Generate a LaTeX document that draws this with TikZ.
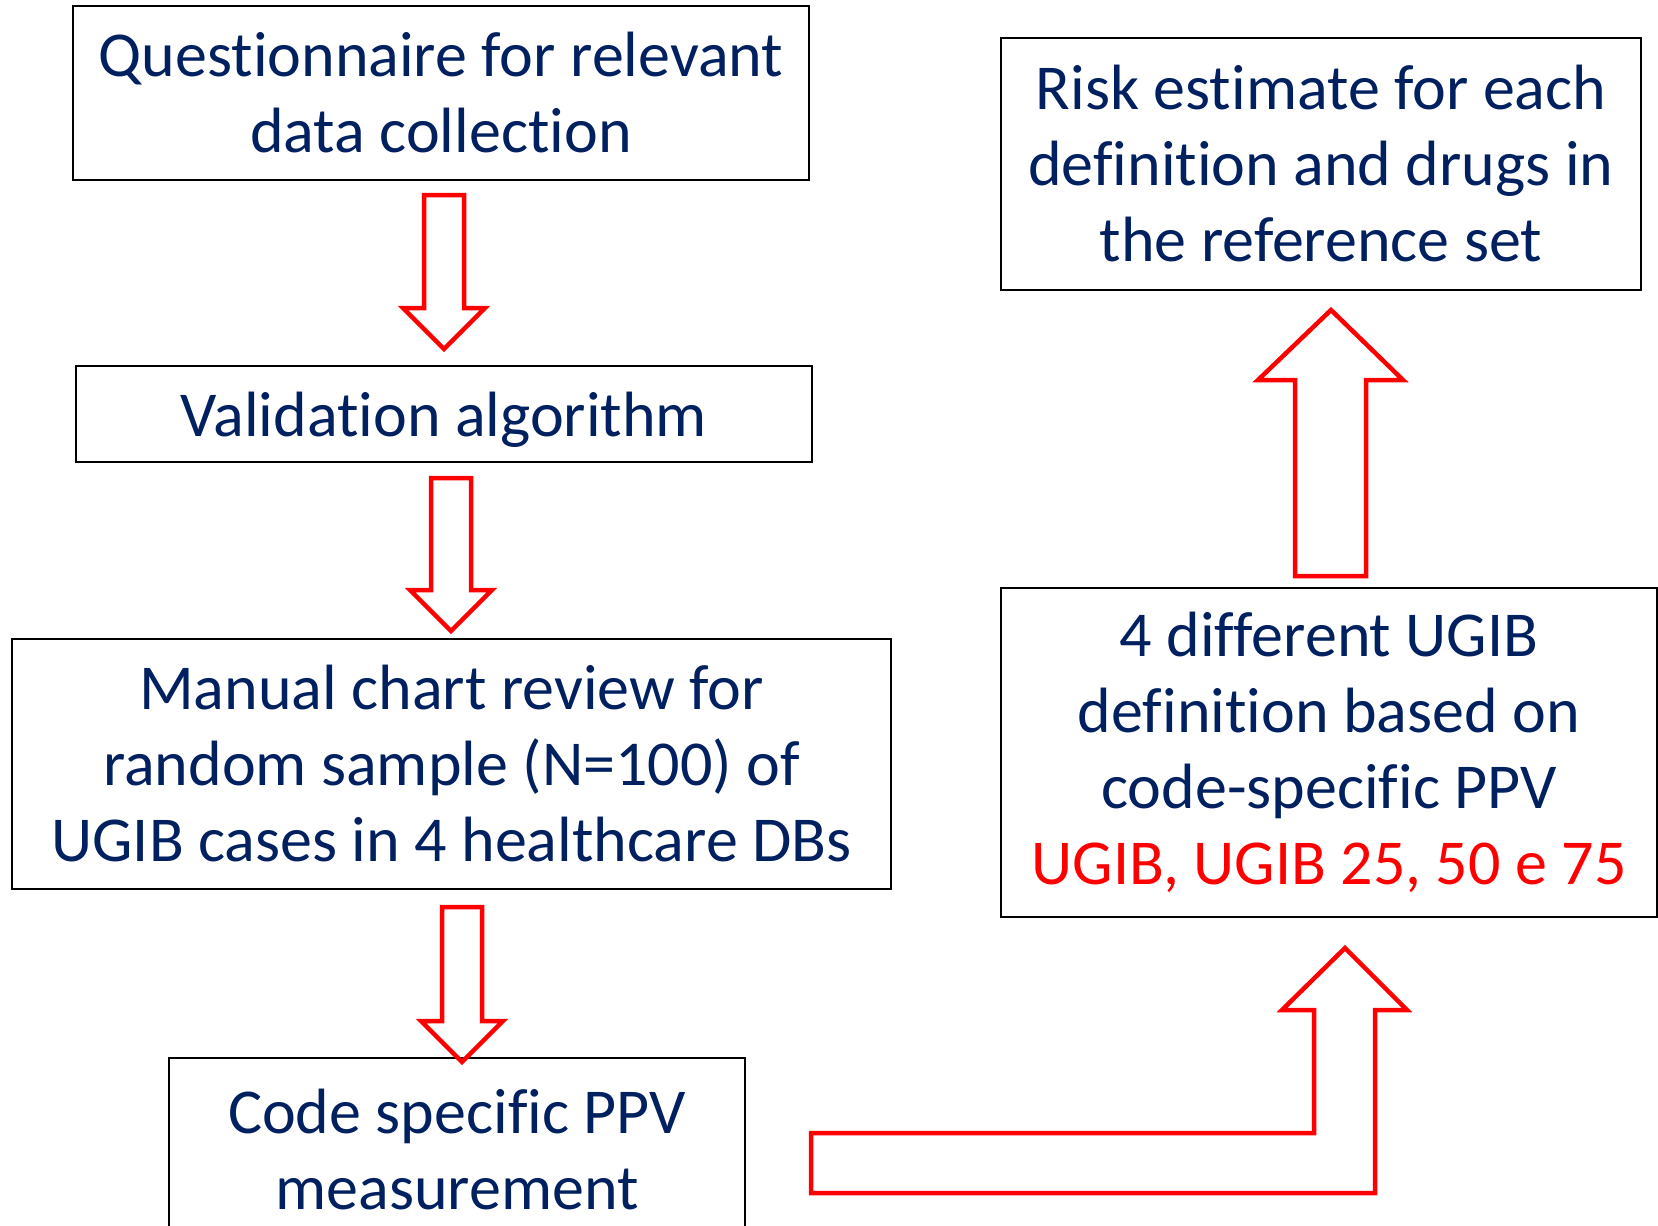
\documentclass[tikz,border=0pt]{standalone}
\usepackage{fontspec}
\setmainfont{Carlito}[Ligatures=NoCommon]
\definecolor{navy}{HTML}{002060}
\definecolor{arrowred}{HTML}{FF0000}
\begin{document}
\begin{tikzpicture}[x=1pt,y=-1pt,
  box/.style={draw=black,line width=1.5pt,align=center,text=navy,inner sep=0pt,
    font=\fontsize{64}{76}\selectfont},
  blockarrow/.style={draw=arrowred,line width=4.5pt,line join=miter}]
\useasboundingbox (0,0) rectangle (1658,1226);
% left column
\node[box,minimum width=736pt,minimum height=174pt] (quest) at (441,93) {Questionnaire for relevant\\data collection};
\node[box,minimum width=736pt,minimum height=96pt,text depth=0pt] (valid) at (444,414) {Validation algorithm};
\node[box,minimum width=879pt,minimum height=250pt] (review) at (451.5,764) {Manual chart review for\\random sample (N=100) of\\UGIB cases in 4 healthcare DBs};
\node[box,minimum width=576pt,minimum height=183pt,anchor=north] (ppv) at (457,1057) {Code specific PPV\\measurement};
% right column
\node[box,minimum width=640pt,minimum height=252pt] (risk) at (1321,164) {Risk estimate for each\\definition and drugs in\\the reference set};
\node[box,minimum width=656pt,minimum height=329pt] (ugib) at (1329,752.5) {4 different UGIB\\definition based on\\code-specific PPV\\\textcolor{arrowred}{UGIB, UGIB 25, 50 e 75}};
% block arrows
\draw[blockarrow] (424,195)--(464,195)--(464,308)--(485,308)--(444,349)--(403,308)--(424,308)--cycle;
\draw[blockarrow] (431,478)--(471,478)--(471,590)--(492,590)--(451,631)--(410,590)--(431,590)--cycle;
\draw[blockarrow] (442,907)--(482,907)--(482,1021)--(503,1021)--(462,1062)--(421,1021)--(442,1021)--cycle;
\draw[blockarrow] (1295,576)--(1295,380)--(1258,380)--(1331,310)--(1403,380)--(1366,380)--(1366,576)--cycle;
\draw[blockarrow] (811,1133)--(1314,1133)--(1314,1010)--(1282,1010)--(1345,948)--(1407,1010)--(1375,1010)--(1375,1193)--(811,1193)--cycle;
\end{tikzpicture}
\end{document}
